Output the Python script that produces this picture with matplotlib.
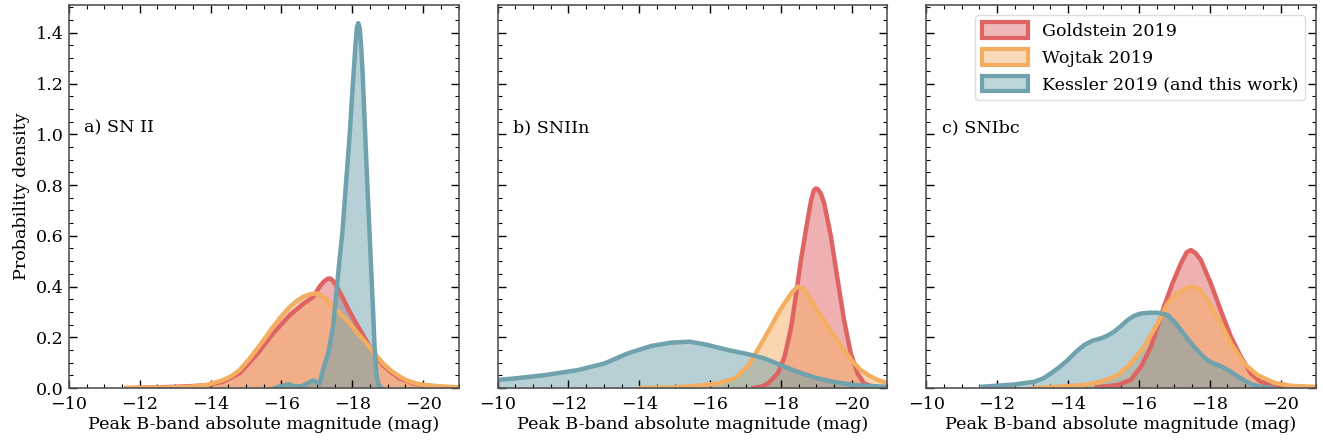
import matplotlib
matplotlib.use("Agg")
import matplotlib.pyplot as plt
from matplotlib.patches import Patch
from matplotlib.ticker import MultipleLocator

plt.rcParams['font.family'] = ['DejaVu Serif']
plt.rcParams['font.size'] = 12.6

# colours: Goldstein, Wojtak, Kessler
colors = ['#df6363', '#f4ae62', '#6fa2ac']
labels = ['Goldstein 2019', 'Wojtak 2019', 'Kessler 2019 (and this work)']
panel_titles = ['a) SN II', 'b) SNIIn', 'c) SNIbc']

# ---- a) SN II (magnitude, density)
a_gold_m = [-11.6, -12.5, -13.0, -13.5, -13.88, -14.35, -14.82, -15.29, -15.77, -16.24, -16.6, -16.9,
            -17.08, -17.2, -17.3, -17.36, -17.42, -17.5, -17.6, -17.74, -17.93, -18.11, -18.3, -18.49,
            -18.68, -18.87, -19.1, -19.34, -19.81, -20.5, -21.0]
a_gold_d = [0.0, 0.003, 0.005, 0.008, 0.011, 0.025, 0.058, 0.13, 0.216, 0.288, 0.33, 0.36,
            0.40, 0.42, 0.43, 0.432, 0.428, 0.415, 0.39, 0.353, 0.30, 0.255, 0.21, 0.163,
            0.125, 0.09, 0.062, 0.038, 0.015, 0.004, 0.001]
a_woj_m = [-11.6, -12.5, -13.0, -13.41, -13.88, -14.35, -14.6, -14.82, -15.05, -15.29, -15.53, -15.77,
           -16.0, -16.24, -16.45, -16.65, -16.85, -16.97, -17.1, -17.25, -17.46, -17.7, -17.93, -18.15,
           -18.4, -18.63, -18.87, -19.1, -19.34, -19.55, -19.81, -20.1, -20.47, -21.0]
a_woj_d = [0.0, 0.002, 0.003, 0.005, 0.012, 0.031, 0.048, 0.071, 0.107, 0.15, 0.195, 0.242,
           0.283, 0.32, 0.345, 0.362, 0.371, 0.373, 0.368, 0.352, 0.32, 0.288, 0.255, 0.216,
           0.176, 0.135, 0.097, 0.068, 0.045, 0.03, 0.018, 0.011, 0.007, 0.003]
a_kes_m = [-15.8, -16.0, -16.2, -16.4, -16.6, -16.75, -16.9, -17.0, -17.08, -17.17, -17.32, -17.46,
           -17.55, -17.64, -17.72, -17.82, -17.93, -18.0, -18.05, -18.09, -18.13, -18.17, -18.21,
           -18.25, -18.29, -18.36, -18.42, -18.48, -18.54, -18.59, -18.63, -18.68, -18.73, -18.82]
a_kes_d = [0.0, 0.008, 0.015, 0.006, 0.008, 0.02, 0.03, 0.022, 0.018, 0.07, 0.137, 0.242,
           0.373, 0.505, 0.61, 0.8, 1.004, 1.16, 1.267, 1.35, 1.42, 1.438, 1.42,
           1.35, 1.25, 1.02, 0.82, 0.64, 0.45, 0.3, 0.16, 0.06, 0.018, 0.0]

# ---- b) SNIIn
b_gold_m = [-17.2, -17.44, -17.63, -17.91, -18.1, -18.29, -18.43, -18.57, -18.75, -18.85, -18.93,
            -18.99, -19.05, -19.13, -19.22, -19.41, -19.6, -19.78, -19.97, -20.16, -20.35, -20.6, -21.0]
b_gold_d = [0.0, 0.005, 0.018, 0.058, 0.123, 0.242, 0.373, 0.51, 0.662, 0.74, 0.78,
            0.787, 0.782, 0.765, 0.728, 0.597, 0.426, 0.268, 0.137, 0.058, 0.018, 0.005, 0.0]
b_woj_m = [-14.0, -15.0, -15.56, -16.22, -16.69, -17.06, -17.34, -17.72, -17.9, -18.1, -18.3, -18.47,
           -18.65, -18.85, -19.08, -19.32, -19.55, -19.78, -20.0, -20.25, -20.5, -20.73, -21.0]
b_woj_d = [0.0, 0.003, 0.008, 0.018, 0.038, 0.085, 0.15, 0.242, 0.29, 0.334, 0.375, 0.40,
           0.39, 0.347, 0.295, 0.242, 0.195, 0.15, 0.108, 0.071, 0.048, 0.032, 0.02]
b_kes_m = [-10.0, -10.48, -11.33, -12.27, -13.02, -13.68, -14.34, -14.9, -15.42, -15.93, -16.5,
           -17.06, -17.53, -18.0, -18.47, -18.94, -19.5, -20.07, -20.96]
b_kes_d = [0.032, 0.038, 0.051, 0.071, 0.097, 0.137, 0.166, 0.179, 0.183, 0.17, 0.15,
           0.134, 0.117, 0.09, 0.064, 0.042, 0.024, 0.012, 0.005]

# ---- c) SNIbc
c_gold_m = [-14.8, -15.4, -15.77, -16.06, -16.34, -16.53, -16.71, -16.95, -17.19, -17.35, -17.47,
            -17.6, -17.75, -18.03, -18.31, -18.6, -18.88, -19.16, -19.44, -19.82, -20.3]
c_gold_d = [0.003, 0.012, 0.032, 0.084, 0.163, 0.242, 0.321, 0.413, 0.492, 0.535, 0.544,
            0.532, 0.505, 0.413, 0.307, 0.202, 0.123, 0.058, 0.025, 0.008, 0.0]
c_woj_m = [-13.0, -13.71, -14.46, -14.93, -15.4, -15.77, -16.15, -16.53, -16.81, -17.09, -17.35,
           -17.51, -17.7, -17.94, -18.22, -18.6, -18.97, -19.35, -19.82, -20.29, -20.95]
c_woj_d = [0.0, 0.005, 0.012, 0.025, 0.051, 0.097, 0.163, 0.255, 0.334, 0.373, 0.395,
           0.40, 0.39, 0.347, 0.281, 0.176, 0.097, 0.051, 0.021, 0.009, 0.005]
c_kes_m = [-11.54, -12.48, -13.05, -13.3, -13.52, -13.76, -13.99, -14.22, -14.46, -14.7, -14.93,
           -15.12, -15.31, -15.5, -15.68, -15.87, -16.06, -16.3, -16.53, -16.81, -17.0, -17.19,
           -17.37, -17.56, -17.75, -17.94, -18.12, -18.31, -18.6, -18.88, -19.16, -19.44, -19.8]
c_kes_d = [0.005, 0.014, 0.025, 0.038, 0.058, 0.083, 0.11, 0.142, 0.17, 0.187, 0.196,
           0.207, 0.223, 0.245, 0.268, 0.285, 0.294, 0.297, 0.297, 0.288, 0.262, 0.228,
           0.195, 0.163, 0.134, 0.11, 0.096, 0.087, 0.064, 0.038, 0.016, 0.005, 0.0]

panels = [
    [(a_gold_m, a_gold_d), (a_woj_m, a_woj_d), (a_kes_m, a_kes_d)],
    [(b_gold_m, b_gold_d), (b_woj_m, b_woj_d), (b_kes_m, b_kes_d)],
    [(c_gold_m, c_gold_d), (c_woj_m, c_woj_d), (c_kes_m, c_kes_d)],
]

fig, axes = plt.subplots(1, 3, figsize=(13.23, 4.43), dpi=100, sharey=True)
fig.subplots_adjust(left=0.052, right=0.9947, top=0.989, bottom=0.124, wspace=0.1)

for ax, curves, title in zip(axes, panels, panel_titles):
    for (m, d), col in zip(curves, colors):
        ax.fill_between(m, d, 0, color=col, alpha=0.5, lw=0)
        ax.plot(m, d, color=col, lw=3.2, solid_joinstyle='round', solid_capstyle='round')
    ax.set_xlim(-10, -21)
    ax.set_ylim(0, 1.51)
    ax.xaxis.set_major_locator(MultipleLocator(2))
    ax.xaxis.set_minor_locator(MultipleLocator(0.5))
    ax.yaxis.set_major_locator(MultipleLocator(0.2))
    ax.yaxis.set_minor_locator(MultipleLocator(0.05))
    ax.tick_params(which='both', direction='in', top=True, right=True, colors='black')
    ax.tick_params(which='major', length=6, width=1.0)
    ax.tick_params(which='minor', length=3, width=0.8)
    ax.tick_params(axis='x', which='major', pad=6)
    for sp in ax.spines.values():
        sp.set_color('#555555')
        sp.set_linewidth(1.2)
    ax.set_xlabel('Peak B-band absolute magnitude (mag)', labelpad=2)
    ax.text(0.04, 0.68, title, transform=ax.transAxes, va='center', ha='left')

axes[0].set_ylabel('Probability density', labelpad=4)

handles = [Patch(facecolor=matplotlib.colors.to_rgba(col, 0.45), edgecolor=col, lw=3) for col in colors]
axes[2].legend(handles, labels, loc='upper right', framealpha=1, edgecolor='#dddddd',
               handlelength=2.6, handleheight=1.0, borderaxespad=0.6)

fig.savefig('out.png', dpi=100)
